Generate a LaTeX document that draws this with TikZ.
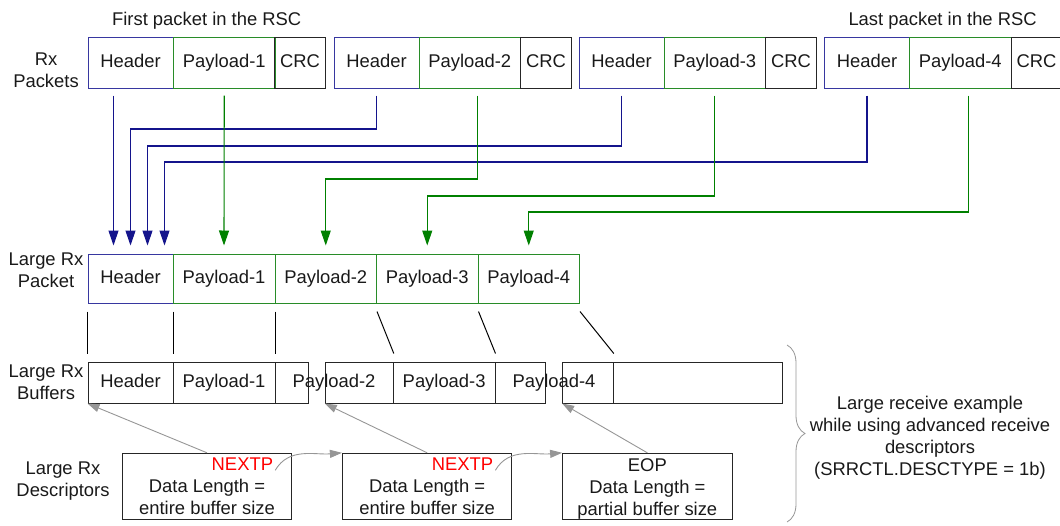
\documentclass[tikz,border=0pt]{standalone}
\usepackage{fontspec}
\setmainfont{Liberation Sans}
\usetikzlibrary{arrows.meta,decorations.pathreplacing,calc}
\definecolor{hdrblue}{RGB}{55,55,160}
\definecolor{arrblue}{RGB}{20,20,140}
\definecolor{plgreen}{RGB}{40,140,40}
\definecolor{arrgreen}{RGB}{0,128,0}
\definecolor{txt}{RGB}{25,25,25}
\definecolor{ggray}{RGB}{150,150,150}
\begin{document}
\begin{tikzpicture}[x=1pt,y=-1pt,
  every node/.style={font=\fontsize{18.4}{22}\selectfont, text=txt},
  cell/.style={rectangle, inner sep=0pt, line width=1pt, text height=13.2pt, text depth=3.9pt},
  hdr/.style={cell, draw=hdrblue},
  pay/.style={cell, draw=plgreen},
  crc/.style={cell, draw=black!85},
  buf/.style={cell, draw=black!85, minimum height=41pt},
  desc/.style={cell, draw=black!85, minimum width=169.5pt, minimum height=66pt},
  lbl/.style={align=center, inner sep=0pt},
  barrow/.style={draw=arrblue, line width=1.1pt, -{Triangle[length=15pt,width=10pt]}},
  garrow/.style={draw=arrgreen, line width=1.1pt, -{Triangle[length=15pt,width=10pt]}},
  guide/.style={draw=black, line width=1pt},
  grayarr/.style={draw=ggray, line width=0.9pt, -{Triangle[length=12pt,width=8pt]}}
]
\useasboundingbox (0,0) rectangle (1060,525);

% titles and row labels
\node[lbl] (t1) at (206.7,21) {First packet in the RSC};
\node[lbl] (t2) at (942.6,21) {Last packet in the RSC};
\node[lbl] (l1) at (46,70.5) {Rx\\Packets};
\node[lbl] (l2) at (46,270) {Large Rx\\Packet};
\node[lbl] (l3) at (46,382) {Large Rx\\Buffers};
\node[lbl] (l4) at (63,481) {Large Rx\\Descriptors};

% Rx packets
\begin{scope}[every node/.append style={minimum height=51pt}]
\node[hdr, minimum width=85pt]    (rh1) at (130.5,62.5)  {Header};
\node[pay, minimum width=101.5pt] (rp1) at (224.25,62.5) {Payload-1};
\node[crc, minimum width=51pt]    (rc1) at (300,62.5)    {CRC};
\node[hdr, minimum width=85pt]    (rh2) at (376.5,62.5)  {Header};
\node[pay, minimum width=101.5pt] (rp2) at (469.75,62.5) {Payload-2};
\node[crc, minimum width=51pt]    (rc2) at (546,62.5)    {CRC};
\node[hdr, minimum width=85pt]    (rh3) at (621.5,62.5)  {Header};
\node[pay, minimum width=101.5pt] (rp3) at (714.75,62.5) {Payload-3};
\node[crc, minimum width=51pt]    (rc3) at (791,62.5)    {CRC};
\node[hdr, minimum width=85pt]    (rh4) at (867,62.5)    {Header};
\node[pay, minimum width=101.5pt] (rp4) at (960.25,62.5) {Payload-4};
\node[crc, minimum width=51pt]    (rc4) at (1036.5,62.5) {CRC};
\end{scope}

% Large Rx packet
\begin{scope}[every node/.append style={minimum height=49pt}]
\node[hdr, minimum width=85pt]    (lph) at (130.5,278.5)  {Header};
\node[pay, minimum width=102pt]   (lp1) at (224,278.5)    {Payload-1};
\node[pay, minimum width=101.5pt] (lp2) at (325.75,278.5) {Payload-2};
\node[pay, minimum width=101.5pt] (lp3) at (427.25,278.5) {Payload-3};
\node[pay, minimum width=101.5pt] (lp4) at (528.75,278.5) {Payload-4};
\end{scope}

% Large Rx buffers
\node[buf, minimum width=85pt]    (bh)  at (130.5,382.5)  {Header};
\node[buf, minimum width=102pt]   (b1)  at (224,382.5)    {Payload-1};
\node[buf, minimum width=33.7pt]  (b1c) at (291.85,382.5) {};
\node[buf, minimum width=68pt]    (b2a) at (359.3,382.5)  {};
\node[buf, minimum width=101.7pt] (b2b) at (444.15,382.5) {Payload-3};
\node[buf, minimum width=50.7pt]  (b2c) at (520.35,382.5) {};
\node[buf, minimum width=50.6pt]  (b3a) at (588,382.5)    {};
\node[buf, minimum width=169pt]   (b3b) at (697.8,382.5)  {};
\node[inner sep=0pt, text height=13.2pt, text depth=3.9pt] (bt2) at (334,382.5) {Payload-2};
\node[inner sep=0pt, text height=13.2pt, text depth=3.9pt] (bt4) at (554,382.5) {Payload-4};

% descriptors
\node[desc] (d1) at (207,486.3) {};
\node[desc] (d2) at (427.15,486.3) {};
\node[desc] (d3) at (647.35,486.3) {};
\node[inner sep=0pt, anchor=east, text=red] (n1) at ([xshift=-19pt,yshift=22pt]d1.east) {NEXTP};
\node[inner sep=0pt, anchor=east, text=red] (n2) at ([xshift=-19pt,yshift=22pt]d2.east) {NEXTP};
\node[lbl] (dt1) at ([yshift=-11pt]d1.center) {Data Length =\\entire buffer size};
\node[lbl] (dt2) at ([yshift=-11pt]d2.center) {Data Length =\\entire buffer size};
\node[lbl] (dt3) at ([yshift=-2.5pt]d3.center) {EOP\\Data Length =\\partial buffer size};

% right note
\node[lbl] (note) at (930,438) {Large receive example\\while using advanced receive\\descriptors\\(SRRCTL.DESCTYPE = 1b)};
\draw[ggray, line width=0.8pt, decorate, decoration={brace, amplitude=18pt}] (787,345) -- (787,522);

% header arrows
\coordinate (s1) at ([xshift=-17pt,yshift=-7pt]rh1.south);
\coordinate (s2) at ([yshift=-7pt]rh2.south);
\coordinate (s3) at ([yshift=-7pt]rh3.south);
\coordinate (s4) at ([yshift=-7pt]rh4.south);
\draw[barrow] (s1) -- ([xshift=-17pt,yshift=8pt]lph.north);
\draw[barrow] (s2) -- (s2 |- 0,129) -| ([yshift=8pt]lph.north);
\draw[barrow] (s3) -- (s3 |- 0,146) -| ([xshift=17pt,yshift=8pt]lph.north);
\draw[barrow] (s4) -- (s4 |- 0,162) -| ([xshift=34pt,yshift=8pt]lph.north);

% payload arrows
\coordinate (g1) at ([yshift=-7pt]rp1.south);
\coordinate (g2) at ([xshift=8pt,yshift=-7pt]rp2.south);
\coordinate (g3) at ([yshift=-7pt]rp3.south);
\coordinate (g4) at ([xshift=8.5pt,yshift=-7pt]rp4.south);
\draw[garrow] (g1) -- ([yshift=8pt]lp1.north);
\draw[garrow] (g2) -- (g2 |- 0,179) -| ([yshift=8pt]lp2.north);
\draw[garrow] (g3) -- (g3 |- 0,196) -| ([yshift=8pt]lp3.north);
\draw[garrow] (g4) -- (g4 |- 0,212) -| ([yshift=8pt]lp4.north);

% guide lines packet -> buffers
\draw[guide] ([yshift=-8pt]lph.south west) -- ([yshift=8pt]bh.north west);
\draw[guide] ([yshift=-8pt]lph.south east) -- ([yshift=8pt]bh.north east);
\draw[guide] ([yshift=-8pt]lp1.south east) -- ([yshift=8pt]b1.north east);
\draw[guide] ([yshift=-8pt]lp2.south east) -- ([yshift=8pt]b2a.north east);
\draw[guide] ([yshift=-8pt]lp3.south east) -- ([yshift=8pt]b2b.north east);
\draw[guide] ([yshift=-8pt]lp4.south east) -- ([yshift=8pt]b3a.north east);

% descriptor pointers
\draw[grayarr] (d1.north) -- (bh.south west);
\draw[grayarr] (d2.north) -- (b2a.south west);
\draw[grayarr] (d3.north) -- (b3a.south west);
\draw[grayarr] ([xshift=2pt,yshift=-6pt]n1.east) to[out=60,in=185] (d2.north west);
\draw[grayarr] ([xshift=2pt,yshift=-6pt]n2.east) to[out=60,in=185] (d3.north west);
\end{tikzpicture}
\end{document}
